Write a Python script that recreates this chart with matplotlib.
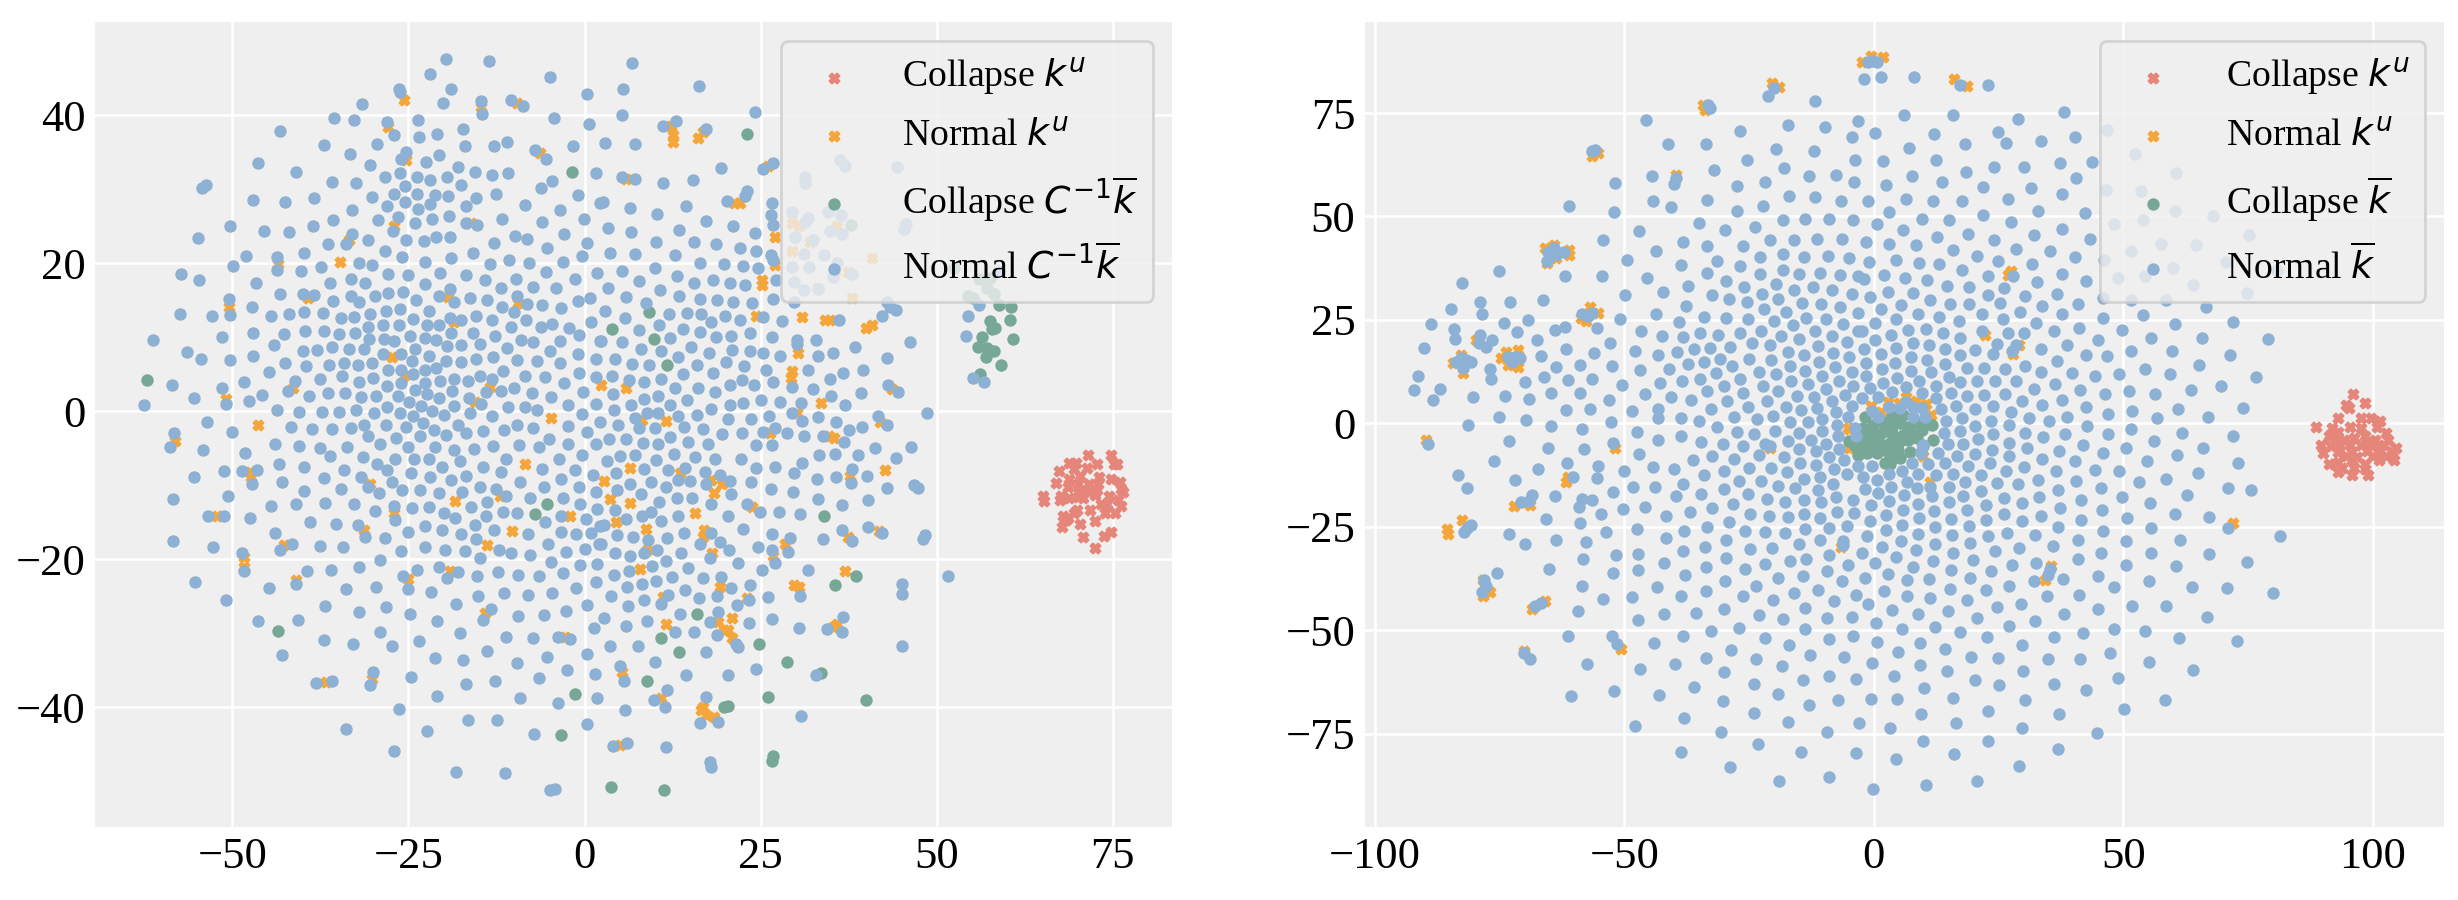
import numpy as np
import matplotlib
matplotlib.use("Agg")
import matplotlib.pyplot as plt

left_collapse_ku = [71.5,-5.9,74.7,-5.9,68.8,-7.0,69.8,-7.0,72.8,-7.1,75.2,-7.2,75.6,-7.2,69.5,-7.8,71.4,-7.7,67.3,-8.1,68.8,-9.2,70.3,-8.8,73.0,-8.9,74.7,-9.1,66.9,-9.7,70.0,-9.9,71.6,-9.8,72.9,-9.8,76.0,-9.6,68.6,-10.3,70.8,-10.5,72.7,-10.7,76.2,-10.5,70.0,-10.9,71.6,-10.9,76.4,-10.9,65.1,-11.4,67.7,-11.4,70.0,-11.6,72.4,-11.3,74.5,-11.4,65.2,-12.2,67.5,-12.0,68.8,-11.8,70.8,-11.8,75.7,-12.0,73.3,-12.5,74.2,-12.5,76.2,-12.8,69.9,-13.4,71.8,-13.3,69.5,-13.8,73.9,-13.8,75.3,-13.7,67.9,-14.1,68.6,-14.5,72.4,-14.8,68.3,-14.7,70.3,-15.2,67.8,-15.6,74.7,-16.3,70.8,-17.0,73.7,-16.9,72.5,-18.5]

left_normal_ku_extra = [-25.6,42.1,-14.7,41.1,-34.7,20.1,-43.5,19.9,-19.4,15.4,-50.5,14.1,-27.4,7.3,-4.7,-0.9,-46.3,-1.9,-27.9,38.4,-9.5,14.6,-18.6,12.0,-41.4,3.2,-15.6,1.3,-13.4,3.3,-25.6,4.7,-58.1,-4.0,-50.9,1.6,-33.4,23.2,-27.1,25.0,-25.4,34.0,-16.1,25.5,-6.3,34.9,-9.6,41.6,-39.2,15.3,
12.3,38.6,12.6,37.3,12.6,36.4,16.1,36.9,16.8,37.8,26.0,33.1,5.9,31.4,22.0,28.1,21.2,28.2,27.1,23.5,27.0,19.8,25.2,17.1,25.2,17.7,37.9,15.3,24.3,12.9,30.9,12.7,34.2,12.3,34.9,12.3,40.8,11.7,39.9,11.2,30.3,7.8,29.5,5.4,29.3,4.5,33.6,1.1,43.7,3.0,42.0,-1.5,35.4,-3.6,34.7,-3.4,11.6,-1.3,5.9,3.1,2.4,3.6,8.1,-1.2,26.3,-3.0,30.1,-0.3,29.5,25.4,30.4,25.0,35.8,25.0,29.5,21.6,35.5,18.9,37.4,18.8,33.1,16.7,40.8,20.7,32.0,22.9,
-47.5,-8.2,-47.3,-8.9,-8.5,-7.1,-18.4,-12.1,-2.1,-14.2,-10.3,-16.2,-13.8,-18.1,-42.7,-18.1,-19.1,-21.6,-25.0,-22.7,-14.1,-27.3,-30.2,-36.2,-36.7,-36.6,-2.8,-30.5,-52.2,-14.1,-27.0,-13.7,-48.4,-19.7,-48.3,-21.1,-31.3,-16.1,-41.0,-22.8,-30.5,-9.8,-12.0,-11.4,
6.5,-7.7,2.8,-9.5,3.6,-11.9,6.5,-12.4,15.7,-13.8,4.4,-15.0,8.7,-15.9,42.6,-7.9,37.7,-8.8,17.9,-9.3,19.5,-9.8,18.4,-11.0,13.5,-8.4,16.9,-16.1,8.9,-18.8,26.7,-19.6,28.5,-17.9,7.9,-21.3,19.3,-23.7,29.7,-23.5,30.4,-23.8,37.0,-21.6,23.0,-25.2,11.1,-25.1,20.9,-28.0,11.5,-28.8,35.8,-28.8,35.3,-29.2,19.8,-29.6,20.3,-29.6,21.0,-30.7,19.0,-28.5,10.8,-38.7,16.8,-40.0,17.3,-41.1,16.5,-40.4,18.4,-41.3,5.1,-45.1,5.3,-35.2,37.4,-17.0,41.8,-16.2,23.8,-12.9,18.1,-19.2,16.8,-17.0]

left_collapse_bar = [-1.8,32.3,-62.1,4.2,23.0,37.4,9.2,13.4,3.9,11.1,9.8,9.7,11.7,6.3,37.8,25.1,52.5,19.3,56.0,17.8,57.6,18.0,57.1,16.6,58.2,15.8,54.5,15.5,55.2,15.3,58.9,14.4,60.5,14.1,60.4,12.3,57.6,12.2,58.3,11.2,57.8,11.1,60.8,9.7,56.4,10.0,55.8,8.7,57.2,8.6,58.2,8.2,57.0,7.3,59.1,6.3,56.1,5.0,
-5.3,-12.5,-7.0,-13.9,-43.5,-29.7,-1.3,-38.2,-3.4,-43.7,34.0,-14.1,38.6,-22.3,35.5,-23.5,16.0,-27.4,10.8,-30.7,24.8,-31.5,13.4,-32.6,28.8,-33.9,33.5,-35.4,8.8,-36.4,26.1,-38.6,39.9,-39.1,20.3,-39.9,19.8,-40.0,26.8,-46.6,26.6,-47.3,3.8,-50.8,11.3,-51.2]

left_normal_bar = [-19.7,47.6,-13.5,47.3,-22.0,45.6,-4.9,45.1,0.4,42.9,-26.4,43.6,-26.2,43.1,-19.0,43.5,-20.1,41.7,-14.7,41.9,-10.5,42.0,-8.8,41.3,-31.6,41.5,-14.5,40.1,-35.5,39.6,-32.8,39.3,-4.3,39.6,0.6,38.8,-28.1,39.1,-23.6,39.3,-43.2,37.9,-27.0,37.3,-23.5,37.0,-21.0,37.5,-17.3,38.2,-17.0,35.9,-37.0,36.0,-29.4,36.1,-12.8,35.9,-11.0,36.4,-1.7,35.8,-33.3,34.8,-7.1,35.3,-5.5,34.1,-25.4,35.0,-26.1,34.1,-20.6,34.6,-22.5,33.7,-46.4,33.5,-30.5,33.3,-17.9,33.0,1.6,32.2,-41.0,32.3,-15.5,32.3,-10.9,32.2,-13.1,31.9,-26.2,32.2,-28.4,31.6,-23.8,31.6,-19.5,31.6,-21.9,31.2,-35.8,31.0,-32.4,30.9,-4.6,31.1,-17.5,30.6,-6.2,30.1,-25.5,30.5,-53.7,30.6,-54.3,30.2,-27.1,29.4,-23.8,29.4,-21.3,29.2,-19.4,29.1,-12.5,29.3,-0.9,29.2,-30.2,28.9,-15.4,28.8,-38.4,28.8,-47.1,28.6,-42.5,28.3,-25.5,28.3,-28.0,27.7,-22.0,28.0,-8.5,27.9,-16.9,27.7,2.2,28.2,-23.7,27.3,-33.0,27.2,-3.5,27.2,-26.5,26.2,-19.3,26.4,-21.7,26.0,-11.7,26.0,-0.1,26.0,-35.7,25.9,-29.3,25.8,-16.9,25.5,-15.2,25.1,-6.1,25.6,-24.1,25.4,-50.3,25.0,-38.5,25.0,-45.5,24.4,-41.9,24.2,-27.2,24.4,-2.9,23.9,-33.0,24.0,-21.1,23.6,-9.9,23.7,-8.1,23.3,-54.9,23.4,-25.4,23.2,-19.1,23.5,-30.7,23.2,-22.8,23.0,-12.8,22.7,0.4,22.7,-36.4,22.6,-33.9,22.6,-5.4,22.1,-28.4,21.6,-39.8,21.4,-15.9,21.4,-0.4,21.0,-48.1,21.0,-43.6,20.8,-25.9,20.8,-18.9,20.7,-10.7,20.5,-22.7,20.2,-3.1,20.2,-13.4,19.9,-7.9,20.0,-32.0,20.0,-30.2,19.7,-49.9,19.6,-37.4,19.5,-43.6,19.1,-40.2,18.9,-20.5,18.7,-5.5,18.8,1.7,18.7,-57.3,18.5,-27.9,18.5,-25.1,18.4,-16.9,18.4,-33.2,17.9,-1.3,17.8,-9.8,17.9,-14.2,17.7,-54.7,17.7,-46.6,17.3,-36.2,17.3,-31.2,17.3,-22.7,17.2,-7.3,16.8,-11.8,16.7,-4.0,16.6,-19.1,16.5,-27.9,16.0,-25.8,16.1,-43.2,15.9,-39.9,15.9,-38.4,15.7,-29.7,15.6,-20.7,15.6,-9.6,15.6,-33.2,15.5,0.8,15.3,-50.5,15.2,-16.3,15.3,-23.9,15.0,-13.9,15.0,-1.0,14.9,-18.6,14.8,-35.7,14.9,-32.0,14.7,-8.1,14.5,-6.0,14.4,-11.7,14.1,-47.2,14.1,-3.3,14.0,-26.2,13.8,-28.2,13.5,-22.1,13.6,-39.8,13.4,-37.1,13.3,-10.0,13.4,-57.4,13.2,-41.9,13.2,-30.5,13.2,-50.3,13.0,-52.9,12.9,-15.4,12.9,-44.5,12.8,-34.6,12.6,-32.7,12.7,-24.3,12.5,-19.1,12.6,-17.6,12.3,-8.3,12.3,-13.1,12.3,0.9,12.1,-22.4,11.7,-28.6,11.7,-20.7,11.6,-4.6,11.8,-6.2,11.4,-26.3,11.6,-30.7,11.4,-2.2,11.3,-10.5,11.4,-39.7,10.9,-37.0,10.8,-47.1,10.5,-18.9,10.5,-34.9,10.4,-15.8,10.6,-32.6,10.5,-42.7,10.4,-0.8,10.3,-12.7,10.1,-51.4,10.0,-24.8,10.2,-22.6,9.9,-28.5,9.8,-30.6,9.7,-21.1,9.6,-61.3,9.6,-27.0,9.5,-9.0,9.6,-7.3,9.4,-3.5,9.5,2.2,9.5,-14.8,9.1,-44.1,8.9,-17.5,8.9,-19.5,8.8,-35.9,8.7,-11.0,8.5,-33.5,8.4,-24.1,8.4,-31.3,8.4,-38.0,8.3,-4.9,8.2,-56.5,8.0,-39.9,8.1,-28.6,7.7,-26.1,7.7,-1.0,7.7,-47.1,7.5,-22.1,7.5,-13.0,7.3,-54.4,7.1,-15.4,7.0,-50.3,6.9,1.6,7.1,-19.7,6.8,-9.6,6.9,-6.8,6.8,-24.5,6.8,-42.5,6.5,-17.6,6.6,-34.2,6.5,-30.2,6.5,-3.5,6.5,-36.3,6.3,-32.2,6.2,-39.5,6.1,-21.1,5.9,-27.9,5.5,-26.1,5.5,-22.7,5.6,-11.6,5.4,-44.8,5.3,-0.8,5.2,-24.4,5.0,-34.4,4.7,1.6,4.6,-8.4,4.8,-5.6,4.6,-30.0,4.5,-37.6,4.4,-14.9,4.7,-18.5,4.4,-16.5,4.1,-13.1,4.3,-26.1,3.8,-20.5,4.1,-32.0,4.0,-22.6,3.8,-41.1,4.1,-48.3,4.0,-2.9,3.8,-58.5,3.6,-28.1,3.4,-51.4,3.2,-24.1,2.9,-10.0,3.1,-18.8,2.7,-42.1,2.7,-0.2,2.6,-11.9,2.7,-14.0,2.6,-34.0,2.4,-36.4,2.4,-7.4,2.4,-22.3,2.3,-45.8,2.2,-39.1,2.1,-26.5,2.0,-29.6,2.1,-31.7,1.9,-4.8,1.9,-20.6,1.8,-16.4,1.8,-55.4,1.8,-47.7,1.4,-24.9,1.3,-14.7,1.0,-50.9,1.0,-2.4,0.9,1.6,1.0,-62.5,0.8,-23.2,0.7,-28.0,0.6,-18.5,0.7,-10.9,0.5,-8.5,0.5,-32.4,0.2,-6.7,0.2,-43.6,0.1,-21.7,0.0,-34.8,-0.1,-37.3,-0.1,-40.6,-0.1,-16.3,-0.2,-26.2,-0.3,-29.9,-0.3,-24.3,-0.6,-20.0,-0.5,-0.4,-0.4,-13.1,-0.6,-53.6,-1.5,-22.9,-1.6,-18.0,-1.8,2.2,-1.5,-9.6,-1.9,-28.2,-1.8,-31.3,-1.8,-7.3,-2.3,-41.7,-2.1,-25.4,-2.2,-2.3,-2.0,-33.2,-2.3,-38.7,-2.4,-35.8,-2.4,-21.4,-2.6,-11.5,-2.5,-16.8,-2.9,-14.4,-2.7,0.3,-2.8,-58.3,-3.0,-50.0,-2.8,-30.7,-3.3,-19.7,-3.2,-23.3,-3.3,-26.8,-3.6,-5.0,-3.8,-44.0,-4.4,-2.3,-4.4,1.6,-4.5,-58.8,-4.8,-40.6,-4.7,-33.7,-4.8,-37.6,-5.0,-29.0,-4.5,-25.0,-4.9,-21.3,-4.8,-13.0,-4.7,-9.3,-4.6,-6.5,-4.9,-54.1,-5.2,-18.6,-5.2,-15.7,-5.1,-48.2,-5.6,
6.8,47.1,5.5,43.5,16.2,44.0,5.3,40.0,24.2,40.4,13.0,39.2,11.2,38.6,17.3,38.1,2.9,36.2,7.1,36.1,26.8,33.6,25.3,32.7,19.4,32.9,5.3,31.7,7.1,31.4,11.1,30.9,15.4,31.3,23.1,29.7,22.8,29.1,2.6,28.3,20.2,28.4,26.6,28.2,6.5,27.5,14.4,27.7,10.3,26.6,26.5,26.5,17.3,25.7,26.7,25.1,3.3,24.8,21.1,25.0,6.6,24.2,13.4,24.5,24.2,24.1,10.1,22.9,15.5,22.8,18.6,22.6,22.0,22.0,3.6,21.4,7.1,21.3,12.9,21.1,24.3,21.7,26.5,21.1,26.7,20.5,16.4,20.0,19.8,19.9,22.5,19.6,10.0,19.4,24.6,19.3,5.3,19.0,13.1,18.3,7.8,17.6,18.3,17.7,20.7,17.3,15.6,17.3,22.8,17.0,27.2,17.7,3.3,16.6,10.7,16.4,13.4,15.5,5.9,15.4,16.4,15.1,18.8,15.0,21.1,14.8,23.8,14.6,26.8,15.1,29.7,14.8,8.7,14.6,2.9,13.6,12.0,13.2,14.5,13.3,16.6,13.1,19.9,12.8,5.7,12.6,25.3,12.7,22.0,12.3,18.0,12.1,28.0,12.2,36.1,12.3,10.5,11.7,7.7,11.0,14.0,11.1,16.4,10.7,23.5,10.5,18.6,10.0,20.8,10.1,26.6,10.0,12.2,9.9,30.1,9.6,32.8,9.6,2.4,9.5,5.3,9.3,46.2,9.3,30.1,9.1,15.1,8.7,8.0,8.4,21.0,8.3,38.4,8.7,10.8,8.1,23.5,8.2,17.7,7.9,25.3,7.9,35.3,7.8,27.7,7.5,33.1,7.5,13.3,7.3,4.3,7.0,43.0,7.2,20.1,6.7,6.8,6.4,22.6,6.1,9.2,6.2,16.0,6.2,25.8,5.6,31.7,5.6,39.6,5.5,36.7,5.2,18.3,5.2,14.0,5.0,3.9,4.7,22.4,4.2,34.9,4.4,6.3,4.2,10.9,4.3,8.5,3.9,26.8,4.0,24.1,3.6,20.6,3.6,43.1,3.6,29.4,3.3,12.9,3.2,16.1,3.2,32.4,3.0,44.5,2.6,18.5,2.6,39.2,2.4,4.0,2.3,10.4,2.1,35.0,2.1,8.5,1.7,14.5,1.5,25.1,1.5,22.5,1.1,27.7,1.3,30.7,1.1,20.7,0.9,6.6,0.9,12.1,0.8,37.0,0.9,18.0,0.3,4.2,0.1,48.6,-0.2,8.9,-0.3,10.4,-0.3,15.9,-0.5,29.5,-0.3,26.2,-0.6,13.3,-0.6,7.1,-0.9,20.4,-1.0,33.2,-0.8,23.7,-1.0,41.6,-0.6,30.9,-1.3,35.7,-1.5,4.8,-1.8,42.9,-1.9,7.8,-2.3,10.0,-2.3,27.0,-2.3,14.1,-2.1,16.8,-2.4,39.4,-2.1,25.4,-2.8,28.7,-2.9,22.4,-3.0,37.5,-2.6,19.5,-3.1,31.2,-3.3,33.8,-3.3,12.2,-3.5,3.5,-3.7,5.9,-3.7,14.7,-4.1,8.3,-4.3,10.4,-4.4,17.5,-4.4,36.9,-4.1,24.4,-4.6,26.6,-4.6,46.4,-4.8,41.3,-5.0,
36.2,34.0,37.0,33.1,44.4,33.0,31.3,31.7,31.3,30.8,29.4,26.9,31.7,26.1,31.3,25.6,34.5,26.9,36.4,26.5,45.6,25.3,45.4,24.6,34.9,24.4,36.6,23.9,29.9,23.5,32.4,23.1,31.2,21.3,34.0,21.1,29.4,19.5,31.8,19.5,35.9,20.0,38.0,18.6,35.3,18.2,29.8,17.4,31.1,16.4,33.1,16.5,58.9,19.0,56.0,14.4,54.5,12.9,54.2,10.1,55.1,4.5,56.7,4.0,43.0,14.8,43.4,14.1,44.2,13.7,42.3,12.9,
-43.4,-7.2,-39.8,-7.5,-36.1,-6.0,-31.5,-6.2,-29.5,-7.1,-26.9,-6.4,-24.2,-6.5,-22.1,-6.4,-20.2,-7.5,-17.7,-6.8,-14.4,-7.6,-11.2,-6.5,-6.0,-7.8,-3.6,-6.5,-0.4,-5.9,-1.3,-7.9,1.2,-8.6,-51.2,-8.1,-48.6,-8.1,-46.5,-7.9,-34.1,-7.9,-28.0,-8.0,-11.9,-8.2,-55.4,-8.9,-37.0,-9.0,-24.7,-8.4,-21.9,-8.9,-31.8,-8.9,-16.8,-8.8,-43.0,-9.6,-47.2,-9.9,-19.0,-9.3,-27.4,-9.6,-9.1,-9.6,-3.4,-9.2,-30.7,-10.2,-5.8,-10.2,-0.8,-10.2,-14.8,-10.3,-34.6,-10.5,-23.3,-10.7,-25.9,-10.6,-12.5,-10.5,-39.8,-10.8,-29.2,-11.0,-20.6,-11.0,-17.4,-10.9,1.6,-10.9,-11.1,-11.5,-50.6,-11.4,-58.4,-11.9,-7.8,-11.7,-3.1,-11.8,-36.8,-12.4,-32.8,-12.5,-40.9,-12.5,-44.5,-12.8,-13.8,-12.3,-0.6,-12.6,-27.1,-12.8,-24.5,-13.1,-22.1,-13.0,-16.1,-12.9,-29.7,-13.5,1.8,-13.2,-20.0,-13.8,-11.6,-13.6,-9.6,-13.8,-14.0,-14.1,-53.4,-14.1,-51.2,-14.2,-18.4,-14.5,-3.3,-14.2,-47.5,-14.5,-26.9,-14.7,0.2,-14.6,-39.0,-15.0,-5.6,-15.0,-35.3,-15.2,-32.2,-15.4,-22.6,-15.5,-15.6,-15.4,2.2,-15.5,-20.2,-16.1,-12.8,-16.1,-25.0,-16.3,-3.4,-16.3,-1.2,-16.6,0.9,-16.4,-44.0,-16.5,-17.5,-16.6,-8.0,-16.6,-31.1,-17.0,-28.3,-17.1,-15.4,-17.3,-41.5,-18.0,-37.6,-18.2,-22.7,-18.3,-58.4,-17.5,-52.7,-18.4,-34.3,-18.3,-5.2,-18.0,2.1,-18.0,-19.8,-18.7,-12.2,-18.7,0.0,-18.6,-43.2,-18.7,-26.0,-18.9,-17.0,-18.9,-2.6,-19.0,-10.4,-19.1,-48.6,-19.2,-7.8,-19.5,-14.8,-19.8,-29.0,-20.1,-4.8,-20.4,-0.6,-20.8,1.8,-20.6,-32.0,-21.0,-20.7,-21.0,-48.3,-21.6,-36.0,-21.4,-39.4,-21.6,-23.8,-21.4,-17.9,-21.7,-12.3,-21.8,-3.0,-21.9,-9.4,-22.2,-6.4,-22.3,-25.8,-22.3,-15.3,-22.3,-19.5,-22.6,1.6,-23.1,-55.3,-23.1,-41.0,-23.4,-29.6,-23.8,-44.8,-23.9,-1.2,-23.9,-33.8,-24.1,-25.1,-24.0,-21.8,-24.4,-11.4,-24.6,-8.0,-24.9,-4.6,-24.6,-15.1,-25.0,-50.9,-25.5,-18.3,-26.1,0.4,-26.2,-36.8,-26.3,-28.2,-26.4,-32.0,-27.1,-13.3,-26.8,-2.6,-27.0,-24.8,-27.4,-5.8,-27.6,-9.4,-27.7,-40.7,-28.2,-46.3,-28.3,-14.4,-28.2,-20.9,-28.4,1.3,-29.3,-29.1,-29.8,-17.7,-30.0,-3.8,-30.5,-11.1,-30.5,-7.3,-30.6,-2.0,-30.8,-37.0,-30.9,-23.5,-31.0,-32.9,-31.5,-27.3,-31.8,-13.8,-32.4,0.4,-32.8,-43.0,-33.0,-5.4,-33.2,-21.2,-33.4,-17.3,-33.6,-9.6,-34.0,-2.5,-35.0,-30.1,-35.2,1.5,-35.5,-24.6,-35.9,-6.4,-36.1,-35.8,-36.4,-38.1,-36.8,-12.7,-36.5,-16.8,-36.9,-30.5,-37.0,-21.0,-38.5,-9.2,-38.8,1.8,-38.8,-3.7,-39.4,-26.3,-40.3,-16.6,-41.7,-12.4,-41.8,0.3,-42.3,-33.8,-42.9,-22.4,-43.2,-7.2,-43.6,-27.1,-45.9,-18.2,-48.7,-11.3,-48.9,-4.9,-51.2,-4.2,-51.1,
3.2,-6.7,5.1,-6.0,7.2,-5.9,10.2,-6.6,12.7,-5.8,15.7,-6.2,18.5,-6.5,22.2,-6.4,24.4,-7.7,27.0,-7.5,30.9,-7.0,33.3,-5.9,35.6,-5.8,38.8,-5.9,44.2,-6.3,4.5,-8.4,8.4,-7.8,11.8,-8.0,14.2,-7.7,17.1,-8.2,19.2,-8.6,29.7,-8.3,33.0,-9.1,35.7,-8.9,38.0,-7.8,37.8,-9.7,40.1,-8.8,9.5,-9.6,6.5,-9.8,13.2,-9.3,15.0,-9.5,20.6,-9.4,23.7,-9.6,17.2,-9.9,11.5,-10.2,26.5,-10.5,29.6,-10.9,43.0,-10.4,46.8,-10.0,47.4,-10.4,4.6,-10.7,8.0,-11.2,20.8,-11.2,13.1,-11.7,15.2,-11.7,10.6,-12.3,17.9,-12.5,33.2,-11.9,40.3,-12.0,23.0,-12.5,36.6,-12.7,4.3,-13.3,24.9,-13.6,27.6,-13.6,9.4,-13.6,13.2,-14.1,30.6,-13.9,8.1,-14.2,20.3,-14.2,5.9,-14.6,10.8,-14.9,2.7,-15.4,22.5,-15.9,40.3,-15.7,36.6,-16.1,42.3,-16.4,26.6,-16.6,14.1,-16.5,18.0,-16.4,4.6,-16.8,6.9,-17.0,11.7,-17.2,29.2,-17.1,33.8,-17.3,9.0,-17.4,37.9,-17.6,48.3,-16.8,48.0,-17.3,16.4,-17.9,19.2,-17.7,24.6,-18.3,2.3,-17.9,10.3,-18.8,20.5,-18.8,26.6,-18.7,28.9,-19.0,4.3,-19.2,13.7,-19.1,8.5,-19.2,6.5,-19.6,17.8,-19.8,11.6,-20.3,21.8,-20.5,27.1,-20.5,9.6,-20.9,14.7,-21.2,25.2,-21.4,31.7,-21.5,6.3,-21.6,4.2,-22.1,51.6,-22.3,12.4,-22.4,16.8,-22.5,19.4,-22.4,10.1,-22.9,8.1,-23.3,23.5,-23.5,45.0,-23.3,6.0,-23.8,20.8,-23.9,14.2,-24.2,30.6,-25.0,45.0,-24.7,26.1,-25.1,11.9,-24.9,3.7,-25.0,18.8,-25.0,8.5,-25.5,16.3,-25.3,23.4,-25.5,10.8,-26.0,21.6,-26.2,6.2,-26.3,13.6,-27.4,18.9,-27.2,36.7,-27.8,2.8,-28.0,26.6,-28.1,8.9,-28.4,17.8,-28.5,23.3,-28.6,5.9,-29.1,30.5,-29.3,34.4,-29.5,36.6,-29.8,12.8,-29.8,15.5,-29.9,18.8,-30.3,21.5,-31.4,21.8,-31.9,3.6,-31.7,7.6,-31.8,45.1,-31.8,17.2,-32.6,10.0,-33.9,5.1,-34.4,24.3,-34.8,32.9,-35.7,14.4,-35.6,20.4,-35.7,5.6,-36.4,11.7,-37.7,17.2,-38.6,9.8,-39.1,11.4,-40.0,5.7,-40.4,30.7,-41.2,16.4,-42.1,18.9,-42.0,6.0,-44.9,4.1,-45.2,11.5,-45.4,17.8,-47.4,18.0,-48.1]

right_collapse_ku = [96.1,7.0,98.5,5.0,94.6,4.4,95.2,3.6,93.1,1.2,97.7,1.2,99.6,1.2,101.5,0.6,88.6,-1.0,91.9,-1.2,93.1,-2.0,95.4,-0.8,97.7,-1.2,100.8,-0.8,102.7,-2.4,91.2,-3.2,92.7,-3.6,96.2,-3.6,98.5,-3.2,100.4,-4.0,103.1,-4.0,89.6,-5.2,93.5,-5.2,95.4,-5.2,97.7,-5.2,100.8,-5.6,104.6,-6.0,90.0,-7.2,93.1,-7.0,95.8,-7.0,98.9,-6.6,101.2,-6.9,103.8,-7.0,91.2,-9.9,93.1,-9.4,95.8,-9.0,98.5,-9.9,101.2,-8.8,104.2,-9.0,93.0,-11.7,95.8,-12.5,99.0,-12.5,94.6,-7.8,96.9,-8.2,100.0,-7.8,94.2,-4.0,99.2,-4.8,91.6,-5.6,96.2,-10.7,98.5,-11.1,93.9,-10.7,102.3,-5.2,102.7,-7.8]

right_normal_ku_extra = [-34.2,77.0,-33.8,75.7,-20.4,82.2,-19.0,81.2,-56.4,64.6,-55.3,65.4,-64.1,43.1,-66.0,42.3,-61.2,41.9,-61.2,40.7,-63.7,39.9,-65.6,38.7,-56.8,28.2,-55.3,26.6,-58.7,25.4,-57.6,24.6,-73.7,17.3,-71.4,17.7,-74.8,15.7,-73.3,14.1,-71.4,13.7,-82.7,16.5,-84.4,14.5,-82.4,12.2,-79.8,20.1,-39.6,60.0,-89.8,-4.0,-51.8,-6.0,-20.8,-6.0,-5.2,-1.2,-61.4,-13.1,-61.8,-14.3,-72.2,-20.0,-68.9,-19.8,-85.6,-25.6,-82.5,-23.5,-85.3,-26.8,-78.3,-37.8,-76.9,-40.9,-78.3,-41.8,-66.0,-42.9,-68.6,-44.9,-70.2,-55.0,-50.7,-54.6,-6.6,-30.0,26.8,35.9,27.5,36.7,22.2,21.4,29.1,18.9,27.9,16.8,18.7,81.6,16.0,83.1,-2.4,87.4,-0.5,88.9,1.8,88.6,72.0,-24.1,35.6,-34.4,34.4,-37.8,9.9,-7.8,11.3,-14.3,-0.5,4.2,1.5,2.8,2.8,5.2,6.4,6.4,8.4,5.4,10.4,4.6,11.4,2.0,5.0,4.8,-5.0,-1.4,-5.0,-6.0]

right_collapse_bar = [-1.8,1.4,3.6,1.8,5.9,2.0,8.6,0.0,11.6,-0.4,9.6,-1.6,11.8,-4.0,9.9,-5.5,7.2,-6.9,5.2,-8.3,3.2,-9.9,2.2,-9.7,0.6,-7.3,-1.4,-7.3,-3.1,-7.7,-3.8,-5.6,-4.9,-4.4,-2.5,-4.4,-1.4,-2.8,-2.1,-1.2,-0.1,-0.4,1.9,0.4,3.6,-0.8,5.2,0.0,6.9,-0.8,8.2,-2.8,5.9,-2.8,3.9,-2.8,1.9,-2.0,-0.1,-2.4,-0.8,-4.8,1.2,-5.2,3.2,-4.8,5.2,-4.4,6.9,-4.0,8.6,-3.6,2.9,-6.9,4.9,-6.5,0.9,-3.6,-2.8,-6.1,-0.8,-6.5,4.2,-8.1,2.6,-5.2,9.2,-0.4]

right_normal_bar = [-1.2,87.3,0.7,87.4,-0.3,87.6,-20.0,81.0,-21.2,79.2,-33.3,77.0,-32.8,76.3,-11.7,78.0,-45.7,73.4,-17.3,72.1,-3.1,73.0,-26.8,70.7,-9.7,71.6,-4.3,69.3,-41.2,67.6,-33.7,67.4,-19.7,66.2,-11.9,65.8,-56.4,65.8,-55.8,66.1,-3.7,63.7,-25.5,63.7,-32.1,61.3,-18.0,61.8,-7.5,59.9,-13.0,59.8,-44.4,59.7,-39.7,59.2,-40.0,57.8,-21.9,58.3,-4.0,58.4,-51.9,58.2,-27.5,57.3,-17.0,55.0,-11.7,54.6,-44.3,53.8,-33.4,54.0,-6.5,53.8,-61.2,52.6,-40.6,52.3,-22.2,52.5,-27.4,51.2,-52.1,51.1,-13.7,49.4,-18.3,49.1,-9.0,49.3,-4.1,49.1,-35.0,48.3,-23.9,47.4,-29.8,46.7,-47.0,46.5,-20.9,44.4,-54.2,44.2,-11.4,44.6,-6.3,44.6,-16.0,44.2,-38.2,43.9,-33.4,42.8,-26.3,42.8,-43.6,41.7,-64.1,42.3,-65.3,41.3,-63.7,40.7,-62.2,41.3,-65.6,39.2,-18.3,40.8,-13.9,40.2,-9.1,40.5,-22.9,40.1,-4.9,39.9,-49.5,39.4,-31.5,39.2,-38.6,38.2,-26.9,38.0,-18.2,37.1,-75.1,36.7,-33.5,36.3,-14.9,36.2,-10.7,36.3,-22.8,36.0,-62.0,35.6,-54.5,35.6,-6.7,35.8,-45.4,35.0,-29.7,34.4,-3.1,35.5,-82.5,33.8,-19.6,33.6,-37.3,33.3,-26.1,33.0,-12.1,33.0,-16.0,32.2,-42.3,31.7,-8.4,32.2,-22.5,31.3,-49.9,31.1,-4.4,31.3,-32.4,30.9,-29.0,30.1,-19.2,30.0,-66.4,29.8,-25.5,29.3,-78.9,29.2,-72.9,29.3,-14.4,29.1,-10.6,28.9,-37.7,28.4,-6.7,28.0,-84.7,27.7,-22.1,27.7,-17.6,26.8,-3.1,26.7,-43.6,26.4,-78.5,26.3,-58.4,26.4,-56.4,26.6,-57.2,26.0,-34.1,25.8,-29.6,25.5,-13.5,25.5,-9.6,25.1,-50.8,25.2,-25.2,25.1,-69.4,24.9,-20.0,24.7,-88.7,24.1,-74.2,24.3,-39.0,24.4,-6.1,24.0,-16.3,23.7,-62.0,23.3,-84.2,22.8,-55.4,23.0,-11.8,22.2,-64.0,22.5,-22.7,22.4,-46.6,22.2,-71.6,22.1,-3.1,22.4,-34.9,21.9,-26.8,21.7,-31.2,21.4,-79.0,21.4,-42.5,21.2,-18.6,21.1,-8.4,21.0,-38.2,20.8,-14.9,20.3,-84.0,20.4,-76.5,20.2,-67.6,20.1,-79.2,19.5,-5.3,19.6,-52.9,19.3,-24.5,19.3,-20.8,18.9,-11.2,18.7,-36.0,18.0,-32.8,18.2,-28.8,18.5,-90.2,18.3,-77.7,18.5,-61.8,18.0,-47.8,17.4,-17.3,17.2,-39.4,17.2,-13.9,16.5,-8.2,17.0,-43.2,16.5,-56.0,17.1,-66.8,16.2,-5.0,15.9,-72.5,15.7,-73.3,16.0,-71.8,16.0,-72.5,14.9,-71.0,15.7,-30.8,15.6,-25.0,15.6,-20.7,15.2,-11.0,14.9,-34.0,14.7,-82.7,15.7,-83.7,14.7,-80.8,14.9,-81.7,15.3,-37.2,14.3,-16.8,13.9,-59.0,14.0,-28.4,13.9,-52.5,13.8,-7.7,13.5,-82.3,13.3,-63.7,13.5,-77.0,13.1,-46.8,12.9,-41.1,13.2,-4.4,12.5,-13.8,12.7,-23.1,12.4,-31.7,12.2,-19.7,11.8,-91.4,11.5,-66.1,11.3,-10.4,11.4,-76.8,10.8,-26.8,10.8,-56.4,10.8,-34.9,10.8,-61.3,10.4,-38.4,10.1,-7.0,10.1,-69.9,10.0,-16.7,10.1,-42.9,9.7,-13.1,9.4,-50.4,9.3,-22.2,9.0,-30.1,9.1,-4.1,9.0,-87.0,8.3,-92.2,8.1,-9.5,8.4,-19.2,7.8,-33.4,7.7,-26.2,7.2,-59.0,7.3,-64.7,7.3,-45.9,7.1,-5.8,6.8,-73.9,6.7,-80.3,6.4,-40.6,6.4,-12.0,6.3,-15.4,6.5,-69.2,5.8,-36.7,5.6,-88.3,5.6,-53.1,5.6,-8.4,5.4,-21.5,5.4,-29.5,5.3,-4.4,4.2,-25.2,3.9,-11.3,3.7,-17.7,4.0,-14.6,3.1,-56.8,3.4,-61.8,3.2,-43.2,3.4,-32.6,3.5,-48.5,2.9,-7.6,2.7,-43.2,1.2,-75.1,1.6,-20.2,1.7,-28.1,1.5,-5.1,1.5,-10.3,1.0,-69.8,0.7,-38.7,1.3,-35.0,0.6,-23.5,1.0,-52.6,0.3,-16.9,0.2,-13.1,0.2,-81.4,-0.4,-64.8,-0.7,-31.5,-0.8,-7.4,-0.4,-58.4,-1.5,-47.4,-2.1,-27.5,-2.1,-19.9,-1.9,-10.3,-1.9,-24.1,-2.5,-38.7,-3.1,-15.0,-2.3,-34.6,-4.5,-43.2,-4.0,-73.1,-4.2,-17.3,-4.3,-12.6,-4.0,-30.3,-4.9,-52.3,-4.8,-21.9,-5.1,-20.8,-5.6,-9.6,-4.9,-89.4,-5.0,-26.2,-5.6,-65.3,-6.0,-58.0,-6.2,-15.0,-6.3,-11.6,-6.6,-7.0,-6.2,
-47.1,-7.4,-36.3,-8.9,-32.4,-8.0,-28.1,-8.6,-23.0,-7.7,-18.0,-8.2,-14.8,-9.7,-11.6,-10.0,-8.9,-8.2,-6.0,-8.9,-76.1,-9.2,-61.6,-9.5,-55.3,-10.3,-44.3,-10.6,-40.0,-11.1,-25.0,-10.7,-20.7,-10.8,-30.1,-11.5,-67.3,-11.0,-50.0,-11.5,-17.4,-11.9,-8.0,-11.1,-34.0,-12.4,-83.4,-12.5,-5.3,-12.2,-60.3,-13.1,-55.4,-13.3,-72.0,-13.8,-27.1,-13.9,-22.7,-14.0,-14.0,-13.5,-10.7,-12.9,-38.3,-14.8,-8.1,-14.7,-19.3,-15.1,-48.2,-15.4,-43.8,-15.4,-15.8,-15.6,-81.5,-15.6,-30.0,-15.9,-11.1,-16.1,-52.3,-16.7,-34.6,-17.0,-25.2,-17.2,-68.6,-17.3,-63.9,-17.6,-39.7,-17.7,-7.5,-17.9,-21.5,-18.3,-58.4,-18.3,-56.4,-18.6,-14.0,-18.6,-4.1,-18.5,-17.8,-19.0,-10.5,-19.1,-70.7,-19.1,-69.2,-18.7,-28.2,-19.5,-59.2,-20.2,-45.8,-20.2,-32.4,-20.5,-50.3,-20.7,-36.8,-21.4,-7.3,-21.5,-24.8,-21.9,-14.0,-21.9,-4.0,-21.6,-54.7,-22.0,-21.0,-22.3,-17.3,-22.7,-10.8,-22.9,-41.6,-22.5,-65.8,-23.1,-29.1,-23.8,-59.0,-24.1,-80.7,-24.6,-81.5,-25.4,-82.2,-26.4,-33.5,-25.1,-9.0,-25.2,-5.4,-24.8,-13.8,-25.6,-47.4,-25.6,-38.0,-26.0,-25.9,-26.0,-53.6,-26.2,-21.9,-26.4,-17.9,-26.5,-73.1,-26.8,-41.6,-27.7,-10.7,-28.1,-6.2,-28.4,-6.2,-29.4,-63.7,-28.3,-29.7,-28.2,-57.7,-28.7,-70.0,-29.1,-15.0,-29.2,-33.8,-29.8,-20.4,-30.2,-24.8,-30.4,-38.3,-31.0,-51.7,-31.8,-47.2,-31.6,-8.9,-31.8,-29.7,-32.5,-58.2,-32.7,-13.5,-32.7,-16.9,-33.3,-42.0,-33.8,-21.8,-34.0,-5.1,-34.2,-33.6,-34.8,-25.9,-35.2,-47.3,-35.5,-65.1,-35.3,-9.4,-35.8,-75.5,-36.3,-52.2,-36.3,-37.9,-36.7,-14.2,-36.9,-19.3,-37.5,-6.3,-38.2,-78.1,-37.9,-77.8,-39.3,-78.6,-40.7,-29.8,-38.1,-23.7,-39.3,-58.4,-39.3,-43.4,-39.7,-11.1,-40.3,-16.0,-41.0,-33.6,-40.6,-3.5,-41.6,-48.4,-42.0,-38.7,-41.8,-26.2,-41.7,-20.2,-42.7,-7.9,-43.0,-54.3,-42.5,-66.8,-43.5,-67.9,-44.1,-13.8,-44.7,-30.1,-44.9,-35.7,-45.9,-59.4,-45.5,-42.0,-46.2,-23.0,-46.3,-9.3,-47.1,-18.3,-47.2,-4.4,-46.9,-47.3,-47.6,-27.1,-49.6,-13.7,-49.8,-32.7,-50.3,-61.4,-51.4,-52.5,-51.4,-38.2,-51.5,-21.8,-51.8,-4.2,-51.5,-8.9,-52.2,-44.0,-53.0,-51.5,-53.4,-17.0,-53.5,-28.7,-54.9,-70.1,-55.5,-68.9,-57.0,-12.7,-56.0,-6.0,-56.5,-33.6,-56.7,-23.6,-56.9,-39.8,-58.2,-57.5,-58.3,-18.5,-58.6,-46.8,-59.4,-30.1,-60.1,-8.9,-61.0,-3.6,-61.8,-14.2,-62.1,-24.0,-63.0,-36.0,-63.7,-52.0,-64.7,-19.2,-65.5,-43.1,-65.7,-60.7,-65.9,-7.1,-67.0,-30.2,-67.1,-13.0,-68.1,-24.0,-70.1,-38.0,-71.2,-17.2,-72.3,-3.0,-72.5,-47.9,-73.3,-9.4,-74.6,-30.6,-74.6,-23.3,-77.5,-38.7,-79.5,-14.6,-79.4,-3.5,-79.6,-28.8,-83.2,-9.0,-85.4,-19.1,-86.6,
-2.0,83.2,1.5,83.8,8.0,83.7,17.2,81.8,22.8,81.8,38.2,75.2,6.0,74.5,15.8,74.5,29.0,73.6,0.2,70.1,12.1,70.0,24.9,70.4,46.7,70.8,40.3,69.1,26.4,67.8,33.6,68.3,18.2,67.5,7.1,66.6,52.4,65.2,12.4,63.7,1.8,63.3,43.8,63.1,37.3,62.9,24.0,62.0,30.1,62.0,18.4,60.8,60.5,60.4,7.7,59.8,40.6,59.4,13.7,58.4,2.5,57.7,21.8,57.0,31.6,56.8,46.6,56.3,53.5,56.2,37.8,55.3,26.8,54.1,6.5,54.1,11.8,53.8,-1.2,53.7,17.7,53.7,60.3,51.4,32.9,51.2,3.0,51.0,42.3,50.8,21.9,50.3,9.7,49.4,15.0,49.2,68.0,50.1,53.9,49.1,27.4,48.6,48.1,48.2,0.6,48.1,37.7,47.0,5.9,46.7,18.9,45.8,75.2,45.6,32.1,45.6,12.6,45.0,43.3,44.6,24.0,44.4,-1.6,43.8,3.0,43.3,57.6,43.4,64.6,43.0,8.5,43.0,28.5,42.1,15.8,41.9,51.5,41.7,35.4,41.7,20.6,40.5,40.3,40.2,4.4,39.4,46.2,39.5,24.8,39.3,-0.9,39.0,9.0,38.8,13.1,38.4,31.7,38.5,70.5,39.1,80.8,37.1,17.6,37.1,59.9,37.5,37.7,36.2,54.4,35.5,2.0,35.8,48.9,35.0,6.3,35.2,28.0,35.5,22.8,35.5,-2.0,34.8,10.7,34.6,42.5,34.5,32.7,34.1,63.9,33.4,14.7,33.3,19.1,33.0,26.0,32.6,2.9,31.8,74.9,31.6,36.7,31.3,7.8,31.4,-0.7,30.6,22.8,30.9,30.4,30.7,45.9,30.3,51.5,29.8,58.5,29.9,11.3,29.7,15.2,28.9,19.0,28.8,25.3,29.1,40.9,28.9,5.5,28.6,33.7,28.4,66.5,28.0,1.5,27.6,21.6,26.4,29.4,26.8,8.9,26.4,37.7,26.3,53.9,26.2,13.0,25.7,45.9,25.5,25.9,25.1,4.4,25.1,17.0,24.8,72.0,24.5,0.3,24.3,32.5,24.3,60.4,24.1,41.2,23.1,10.4,22.7,6.9,22.6,49.8,22.5,-2.4,22.3,36.1,22.4,21.6,22.3,26.9,21.8,13.9,21.9,30.1,21.7,3.4,21.4,45.0,20.1,65.7,20.7,17.3,20.5,79.0,20.3,55.5,20.5,0.3,20.1,24.6,19.1,38.8,18.9,7.9,19.3,11.0,18.8,4.5,18.2,28.5,18.9,14.3,18.0,33.5,17.9,-2.0,18.0,20.2,17.6,27.8,17.5,59.8,17.5,51.5,17.4,23.9,16.8,1.4,16.7,71.5,16.5,17.2,16.4,7.4,16.0,10.7,15.4,42.5,16.4,46.7,16.3,36.7,15.1,4.3,14.6,-1.6,14.6,14.3,14.3,30.3,13.9,65.1,14.2,22.0,13.4,18.6,13.4,26.2,13.2,54.4,13.1,7.4,12.7,1.7,13.0,11.4,12.3,33.6,12.3,39.8,12.2,49.1,12.0,44.4,11.5,59.3,11.8,-1.5,11.5,4.6,11.0,76.7,11.2,15.0,11.2,20.6,10.1,17.3,10.0,24.2,10.2,9.1,10.2,28.6,10.1,1.8,9.7,36.3,9.5,12.4,9.1,6.5,8.7,69.6,9.1,32.2,8.3,-0.8,8.5,41.3,8.1,63.6,8.1,51.2,7.8,3.7,7.6,9.6,7.3,15.4,7.3,26.2,7.0,22.1,6.9,46.4,7.0,18.7,6.5,56.4,7.0,12.5,6.1,37.7,5.7,29.7,5.3,33.7,4.5,74.0,3.6,23.9,4.1,16.5,4.1,42.6,3.9,20.3,3.4,61.0,3.4,51.7,3.0,13.5,3.4,27.4,2.7,46.9,2.2,38.7,1.6,17.6,1.3,31.2,1.3,67.0,1.5,14.5,0.6,56.7,1.3,35.2,0.6,23.4,0.5,20.3,-0.6,27.0,-0.4,42.8,-0.6,51.5,-1.4,61.8,-2.3,17.2,-1.9,30.4,-2.3,14.1,-2.3,23.9,-2.5,46.9,-2.7,72.0,-3.1,38.4,-2.7,34.0,-3.4,14.9,-5.1,17.9,-5.0,20.9,-3.9,27.1,-4.7,56.1,-4.3,9.9,-5.3,30.8,-6.0,41.9,-5.2,65.9,-6.0,50.5,-6.0,
-0.4,3.0,0.9,1.6,3.1,4.0,5.2,3.6,6.4,5.2,7.9,4.0,9.6,3.8,7.8,1.4,10.2,1.6,-3.8,-1.2,-3.5,-3.1,9.4,-7.1,-7.1,-3.2,-2.3,6.0,0.9,6.4,-3.1,-10.3,
9.5,-7.0,12.8,-7.2,16.6,-7.8,20.2,-7.4,23.7,-6.5,27.1,-7.8,33.7,-8.6,37.1,-6.6,45.9,-7.2,40.3,-9.2,60.7,-7.7,7.7,-9.6,10.8,-9.9,14.2,-9.6,18.9,-10.3,23.2,-9.5,30.2,-10.6,73.0,-9.6,54.8,-9.2,36.5,-11.5,44.3,-11.3,49.1,-11.5,-0.3,-10.4,5.7,-11.5,8.9,-12.3,12.5,-12.4,15.9,-12.2,21.5,-12.4,26.4,-11.5,65.0,-12.1,58.6,-13.5,3.1,-12.3,0.7,-13.6,-2.1,-13.1,32.9,-13.6,53.1,-14.1,40.6,-14.0,6.6,-14.3,18.3,-14.2,24.7,-14.5,29.0,-14.8,11.3,-15.3,8.7,-15.7,15.0,-15.4,3.5,-15.3,-1.8,-16.0,70.9,-15.6,75.6,-16.1,36.9,-16.1,45.5,-15.7,21.5,-16.3,0.8,-16.8,62.8,-17.3,6.1,-17.3,49.8,-17.8,17.9,-17.5,11.7,-17.7,26.0,-18.0,33.2,-17.8,41.5,-18.5,3.1,-18.9,15.0,-19.1,8.8,-19.4,29.7,-19.2,55.4,-19.2,22.4,-19.7,-0.5,-19.8,5.9,-21.0,37.3,-20.6,18.7,-21.0,12.1,-21.2,45.7,-21.0,26.1,-22.0,2.4,-22.2,60.3,-22.0,15.4,-23.2,33.6,-22.4,9.0,-23.0,50.7,-22.9,67.1,-22.7,22.5,-23.5,-0.7,-23.6,41.5,-23.3,29.7,-23.6,5.7,-24.5,71.1,-25.3,12.3,-25.1,19.0,-24.9,36.9,-25.1,55.5,-25.4,46.0,-26.0,2.4,-25.8,26.6,-26.5,8.9,-26.8,32.3,-27.1,-1.3,-27.3,15.6,-27.1,22.8,-27.3,41.0,-28.1,81.5,-27.3,61.4,-28.1,5.4,-28.4,50.5,-28.4,19.2,-29.0,12.2,-29.3,36.0,-29.7,1.7,-29.8,29.1,-30.1,8.4,-30.7,24.3,-31.0,15.8,-31.4,55.5,-31.4,45.6,-31.4,67.2,-31.5,-2.4,-31.3,40.9,-32.9,4.4,-32.4,74.8,-33.5,11.9,-33.4,19.9,-33.1,0.2,-33.9,50.5,-34.3,32.6,-33.9,27.6,-34.3,60.6,-34.5,7.8,-34.7,35.4,-35.2,35.0,-36.8,15.4,-35.5,23.5,-35.6,2.8,-36.5,44.9,-36.9,19.2,-37.4,-1.8,-37.4,38.0,-37.7,11.1,-37.7,6.6,-37.8,32.2,-38.2,55.1,-38.2,27.1,-39.3,63.7,-39.7,48.2,-39.7,70.7,-39.8,15.2,-40.0,22.5,-40.3,2.1,-40.6,41.2,-41.4,80.1,-41.1,34.8,-41.8,6.7,-41.8,11.3,-42.2,18.6,-42.7,-1.1,-43.7,29.6,-43.6,51.8,-44.1,58.6,-44.1,24.7,-44.3,3.7,-45.1,44.9,-44.9,14.9,-45.4,38.1,-46.1,8.9,-46.0,66.7,-46.8,20.6,-47.0,32.4,-47.8,0.5,-48.2,27.0,-48.9,12.3,-49.3,5.7,-49.7,48.1,-49.7,54.4,-50.2,17.3,-50.5,41.9,-50.7,36.1,-51.7,22.6,-51.7,61.2,-51.8,72.8,-52.6,0.6,-52.9,9.3,-53.0,29.8,-53.5,14.3,-54.6,4.9,-55.4,47.4,-55.5,19.4,-56.4,24.9,-56.7,41.3,-57.1,35.0,-57.1,55.1,-57.6,-0.3,-57.9,9.3,-58.4,64.0,-59.6,29.9,-59.8,14.7,-60.0,4.1,-61.1,49.0,-61.6,20.2,-62.1,25.0,-63.3,36.2,-63.1,42.6,-64.6,10.1,-64.0,15.8,-66.4,-0.6,-66.7,4.7,-66.7,30.4,-66.8,58.4,-67.0,50.2,-69.0,22.8,-69.5,9.5,-70.3,37.2,-70.3,16.4,-72.5,3.3,-73.6,29.8,-73.6,44.7,-74.8,9.9,-76.8,22.9,-76.8,36.9,-78.7,16.0,-80.0,4.5,-81.2,29.2,-82.9,20.7,-86.6,10.5,-87.4,-0.2,-88.5]

left_labels = [r"Collapse $k^u$", r"Normal $k^u$", r"Collapse $C^{-1}\overline{k}$", r"Normal $C^{-1}\overline{k}$"]
right_labels = [r"Collapse $k^u$", r"Normal $k^u$", r"Collapse $\overline{k}$", r"Normal $\overline{k}$"]
left_xticks = [-50, -25, 0, 25, 50, 75]
left_yticks = [-40, -20, 0, 20, 40]
right_xticks = [-100, -50, 0, 50, 100]
right_yticks = [-75, -50, -25, 0, 25, 50, 75]

RED, ORANGE, GREEN, BLUE = "#E6867B", "#F4A63A", "#76A797", "#8DB1D4"
plt.rcParams["font.family"] = ["Liberation Serif", "DejaVu Sans"]
plt.rcParams["axes.unicode_minus"] = True

def xy(values):
    return np.array(values, dtype=float).reshape(-1, 2)

fig = plt.figure(figsize=(12.29, 4.5), dpi=200)
W, H = 2458, 900

def panel(rect, collapse_ku, normal_extra, collapse_bar, normal_bar, labels, xticks, yticks, xlim, ylim, under_s, textpad):
    ax = fig.add_axes(rect, facecolor="#EFEFEF")
    ck, ne, cb, nb = xy(collapse_ku), xy(normal_extra), xy(collapse_bar), xy(normal_bar)
    SC, SX, LX = 20, 13, 0.7
    ax.scatter(ck[:, 0], ck[:, 1], marker="X", s=SX, c=RED, edgecolors=RED, linewidths=LX, label=labels[0], zorder=3)
    ax.scatter(nb[:, 0], nb[:, 1], marker="X", s=under_s, c=ORANGE, linewidths=0, zorder=3.1)
    ax.scatter(ne[:, 0], ne[:, 1], marker="X", s=SX, c=ORANGE, edgecolors=ORANGE, linewidths=LX, label=labels[1], zorder=3.1)
    ax.scatter(cb[:, 0], cb[:, 1], marker="o", s=SC, c=GREEN, linewidths=0, label=labels[2], zorder=3.2)
    ax.scatter(nb[:, 0], nb[:, 1], marker="o", s=SC, c=BLUE, linewidths=0, label=labels[3], zorder=3.3)
    ax.set_xlim(*xlim)
    ax.set_ylim(*ylim)
    ax.set_xticks(xticks)
    ax.set_yticks(yticks)
    ax.grid(True, color="white", linewidth=0.9, zorder=1)
    ax.set_axisbelow(True)
    ax.tick_params(length=0, labelsize=16, pad=3.5)
    for s in ax.spines.values():
        s.set_visible(False)
    leg = ax.legend(loc="upper right", fontsize=13.6, framealpha=0.8, facecolor="#EFEFEF", edgecolor="#CCCCCC",
                    labelspacing=0.56, handletextpad=textpad, markerscale=1.0)
    leg.get_frame().set_linewidth(1.0)
    leg.set_zorder(10)
    return ax

panel([95/W, 73/H, 1077/W, 805/H], left_collapse_ku, left_normal_ku_extra, left_collapse_bar, left_normal_bar,
      left_labels, left_xticks, left_yticks, (-69.5, 83.4), (-56.2, 52.6), 16, 0.8)
panel([1365/W, 73/H, 1079/W, 805/H], right_collapse_ku, right_normal_ku_extra, right_collapse_bar, right_normal_bar,
      right_labels, right_xticks, right_yticks, (-102, 114.3), (-97.6, 97), 11, 0.95)
fig.savefig("out.png", dpi=200)
